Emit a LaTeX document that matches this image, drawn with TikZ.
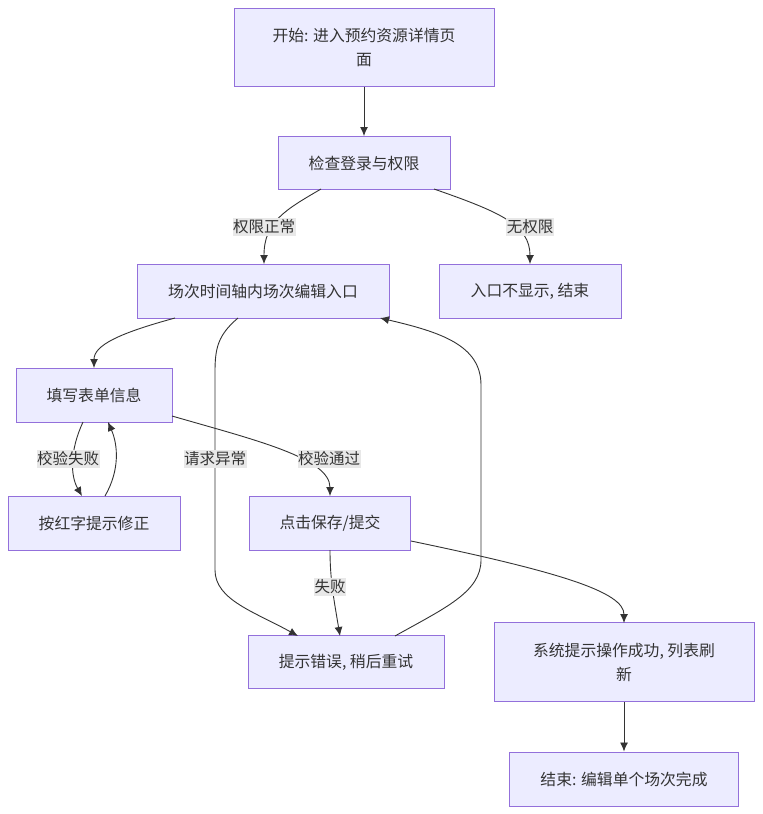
\documentclass[tikz,border=0pt]{standalone}
\usepackage{fontspec}
\newfontfamily\cjk{Noto Sans CJK SC}
\usetikzlibrary{arrows.meta}
\definecolor{nodefill}{HTML}{ECECFF}
\definecolor{nodeline}{HTML}{9370DB}
\definecolor{txt}{HTML}{333333}
\definecolor{lblbg}{HTML}{E8E8E8}
\tikzset{
  box/.style={draw=nodeline, fill=nodefill, line width=1pt, text=txt, align=center,
    font=\cjk\fontsize{15.8}{24}\selectfont, inner sep=0pt},
  edge/.style={draw=txt, line width=0.9pt, -{Latex[length=9pt,width=8pt]}},
  lbl/.style={fill=lblbg, text=txt, font=\cjk\fontsize{15.5}{18}\selectfont, inner xsep=0.5pt, inner ysep=2pt}
}
\begin{document}
\begin{tikzpicture}[x=1pt,y=-1pt]
\useasboundingbox (0,0) rectangle (763,814);
\fill[white] (0,0) rectangle (763,814);
% nodes
\node[box, minimum width=260pt, minimum height=78pt] (A) at (364,47) {开始: 进入预约资源详情页\\面};
\node[box, minimum width=172pt, minimum height=53pt] (B) at (364,163) {检查登录与权限};
\node[box, minimum width=252pt, minimum height=54pt] (C) at (263,291) {场次时间轴内场次编辑入口};
\node[box, minimum width=182pt, minimum height=54pt] (D) at (530,291) {入口不显示, 结束};
\node[box, minimum width=156pt, minimum height=54pt] (E) at (94,395) {填写表单信息};
\node[box, minimum width=172pt, minimum height=54pt] (F) at (94,523) {按红字提示修正};
\node[box, minimum width=161pt, minimum height=54pt] (G) at (330,523) {点击保存/提交};
\node[box, minimum width=196pt, minimum height=53pt] (H) at (346,662) {提示错误, 稍后重试};
\node[box, minimum width=260pt, minimum height=79pt] (I) at (624,662) {系统提示操作成功, 列表刷\\新};
\node[box, minimum width=229pt, minimum height=54pt] (J) at (624,779) {结束: 编辑单个场次完成};
% anchor coordinates
\coordinate (Bl) at (321,189);
\coordinate (Br) at (434,189);
\coordinate (Ct) at (264,264);
\coordinate (Dt) at (530,264);
\coordinate (Cb1) at (175,318);
\coordinate (Cb2) at (238,318);
\coordinate (Cb3) at (380,318);
\coordinate (Et) at (94,368);
\coordinate (Eb1) at (83,422);
\coordinate (Eb2) at (108,422);
\coordinate (Er) at (172,416);
\coordinate (Ft1) at (82,496);
\coordinate (Ft2) at (105,496);
\coordinate (Gt) at (330,496);
\coordinate (Gb) at (330,550);
\coordinate (Gr) at (411,541);
\coordinate (Ht1) at (298,636);
\coordinate (Ht2) at (340,636);
\coordinate (Ht3) at (395,636);
\coordinate (It) at (624,623);
% edges
\draw[edge] (A.south) -- (B.north);
\draw[edge] (Bl) .. controls (285,210) and (264,222) .. (Ct);
\draw[edge] (Br) .. controls (500,212) and (530,225) .. (Dt);
\draw[edge] (Cb1) .. controls (120,333) and (94,345) .. (Et);
\draw[edge] (Cb2) .. controls (218,335) and (215,348) .. (215,372) -- (215,570) .. controls (215,600) and (255,612) .. (Ht1);
\draw[edge] (Ht3) .. controls (445,608) and (481,592) .. (481,560) -- (481,385) .. controls (481,345) and (440,332) .. (Cb3);
\draw[edge] (Eb1) .. controls (70,450) and (70,475) .. (Ft1);
\draw[edge] (Ft2) .. controls (120,470) and (118,445) .. (Eb2);
\draw[edge] (Er) .. controls (255,440) and (330,458) .. (Gt);
\draw[edge] (Gb) .. controls (330,580) and (334,600) .. (Ht2);
\draw[edge] (Gr) .. controls (560,572) and (624,592) .. (It);
\draw[edge] (I.south) -- (J.north);
% edge labels
\node[lbl] (L1) at (264,227) {权限正常};
\node[lbl] (L2) at (530,227) {无权限};
\node[lbl] (L3) at (68,459) {校验失败};
\node[lbl] (L4) at (215,459) {请求异常};
\node[lbl] (L5) at (329,459) {校验通过};
\node[lbl] (L6) at (330,587) {失败};
\end{tikzpicture}
\end{document}
